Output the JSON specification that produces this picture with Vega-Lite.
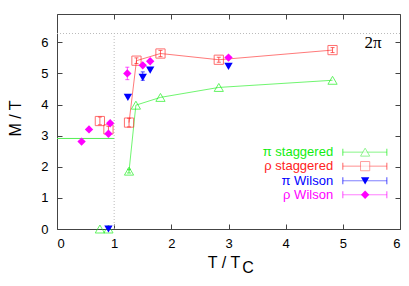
{
  "$schema": "https://vega.github.io/schema/vega-lite/v6.json",
  "autosize": {"type": "none"},
  "padding": {"left": 57, "top": 14, "right": 9, "bottom": 57},
  "width": 343,
  "height": 215,
  "background": "white",
  "config": {
    "view": {"stroke": "#444444", "strokeWidth": 1},
    "font": "Liberation Sans",
    "axis": {"grid": false, "domain": false, "tickColor": "#444444", "tickSize": -5, "labelFont": "Liberation Sans", "labelFontSize": 13, "labelColor": "#000000", "titleFont": "Liberation Sans", "titleFontSize": 16, "titleFontWeight": "normal", "titleColor": "#000000"}
  },
  "datasets": {
    "main": [
      {"series": "π staggered", "T": 0.75, "M": 0.0, "conn": false},
      {"series": "π staggered", "T": 0.9, "M": 0.0, "conn": false},
      {"series": "π staggered", "T": 1.26, "M": 1.86, "lo": 1.8, "hi": 1.92, "conn": true},
      {"series": "π staggered", "T": 1.38, "M": 3.98, "conn": true},
      {"series": "π staggered", "T": 1.81, "M": 4.23, "conn": true},
      {"series": "π staggered", "T": 2.83, "M": 4.55, "conn": true},
      {"series": "π staggered", "T": 4.82, "M": 4.78, "conn": true},
      {"series": "ρ staggered", "T": 0.75, "M": 3.47, "lo": 3.35, "hi": 3.6, "conn": false},
      {"series": "ρ staggered", "T": 0.9, "M": 3.2, "lo": 3.1, "hi": 3.3, "conn": false},
      {"series": "ρ staggered", "T": 1.26, "M": 3.42, "lo": 3.28, "hi": 3.56, "conn": true},
      {"series": "ρ staggered", "T": 1.39, "M": 5.41, "lo": 5.32, "hi": 5.5, "conn": true},
      {"series": "ρ staggered", "T": 1.81, "M": 5.64, "lo": 5.54, "hi": 5.74, "conn": true},
      {"series": "ρ staggered", "T": 2.83, "M": 5.44, "lo": 5.36, "hi": 5.52, "conn": true},
      {"series": "ρ staggered", "T": 4.82, "M": 5.75, "lo": 5.67, "hi": 5.83, "conn": true},
      {"series": "π Wilson", "T": 0.9, "M": 0.0, "conn": false},
      {"series": "π Wilson", "T": 1.24, "M": 4.23, "conn": false},
      {"series": "π Wilson", "T": 1.5, "M": 4.87, "lo": 4.78, "hi": 5.05, "conn": false},
      {"series": "π Wilson", "T": 1.63, "M": 5.11, "conn": false},
      {"series": "π Wilson", "T": 3.0, "M": 5.23, "conn": false},
      {"series": "ρ Wilson", "T": 0.43, "M": 2.81, "conn": false},
      {"series": "ρ Wilson", "T": 0.56, "M": 3.2, "conn": false},
      {"series": "ρ Wilson", "T": 0.9, "M": 3.06, "conn": false},
      {"series": "ρ Wilson", "T": 0.93, "M": 3.4, "conn": false},
      {"series": "ρ Wilson", "T": 1.23, "M": 5.0, "lo": 4.8, "hi": 5.2, "conn": false},
      {"series": "ρ Wilson", "T": 1.5, "M": 5.26, "conn": false},
      {"series": "ρ Wilson", "T": 1.63, "M": 5.39, "conn": false},
      {"series": "ρ Wilson", "T": 3.0, "M": 5.51, "conn": false}
    ],
    "legend": [
      {"series": "π staggered", "ly": 2.47},
      {"series": "ρ staggered", "ly": 2.02},
      {"series": "π Wilson", "ly": 1.55},
      {"series": "ρ Wilson", "ly": 1.1}
    ],
    "ref": [
      {"label": "2π", "M": 6.2832, "T0": 0, "T1": 6, "vx": 1, "v0": 0, "T": 5.53, "ty": 5.97, "gM": 2.91, "g0": 0, "g1": 1}
    ]
  },
  "resolve": {"axis": {"x": "independent", "y": "independent"}},
  "layer": [
    {
      "data": {"name": "main"},
      "mark": {"type": "point", "opacity": 0},
      "encoding": {
        "x": {"field": "T", "type": "quantitative", "scale": {"domain": [0, 6], "nice": false, "zero": false}, "axis": {"orient": "bottom", "values": [0,1,2,3,4,5,6], "labelPadding": 13, "title": "T / T", "titleX": 166.5, "titleY": 38, "titleBaseline": "alphabetic", "titleAlign": "center"}},
        "y": {"field": "M", "type": "quantitative", "scale": {"domain": [0, 6.91], "nice": false, "zero": false}, "axis": {"orient": "left", "values": [0,1,2,3,4,5,6], "labelPadding": 14, "title": "M / T", "titleX": -42, "titleY": 104, "titleAngle": 270, "titleAlign": "center", "titleBaseline": "middle"}}
      }
    },
    {
      "data": {"name": "main"},
      "mark": {"type": "point", "opacity": 0},
      "encoding": {
        "x": {"field": "T", "type": "quantitative", "scale": {"domain": [0, 6], "nice": false, "zero": false}, "axis": {"orient": "top", "values": [0,1,2,3,4,5,6], "labels": false, "title": null}},
        "y": {"field": "M", "type": "quantitative", "scale": {"domain": [0, 6.91], "nice": false, "zero": false}, "axis": {"orient": "right", "values": [0,1,2,3,4,5,6], "labels": false, "title": null}}
      }
    },
    {
      "data": {"name": "ref"},
      "mark": {"type": "rule", "color": "#bbbbbb", "strokeDash": [1, 2], "strokeWidth": 1},
      "encoding": {
        "x": {"field": "T0", "type": "quantitative", "scale": {"domain": [0, 6], "nice": false, "zero": false}, "axis": null},
        "x2": {"field": "T1"},
        "y": {"field": "M", "type": "quantitative", "scale": {"domain": [0, 6.91], "nice": false, "zero": false}, "axis": null}
      }
    },
    {
      "data": {"name": "ref"},
      "mark": {"type": "rule", "color": "#bbbbbb", "strokeDash": [1, 2], "strokeWidth": 1},
      "encoding": {
        "x": {"field": "vx", "type": "quantitative", "scale": {"domain": [0, 6], "nice": false, "zero": false}, "axis": null},
        "y": {"field": "v0", "type": "quantitative", "scale": {"domain": [0, 6.91], "nice": false, "zero": false}, "axis": null},
        "y2": {"field": "M"}
      }
    },
    {
      "data": {"name": "ref"},
      "mark": {"type": "rule", "color": "#55ee55", "strokeWidth": 1},
      "encoding": {
        "x": {"field": "g0", "type": "quantitative", "scale": {"domain": [0, 6], "nice": false, "zero": false}, "axis": null},
        "x2": {"field": "g1"},
        "y": {"field": "gM", "type": "quantitative", "scale": {"domain": [0, 6.91], "nice": false, "zero": false}, "axis": null}
      }
    },
    {
      "data": {"name": "ref"},
      "mark": {"type": "text", "font": "Liberation Serif", "fontSize": 17, "align": "center", "baseline": "middle", "color": "#000000"},
      "encoding": {
        "x": {"field": "T", "type": "quantitative", "scale": {"domain": [0, 6], "nice": false, "zero": false}, "axis": null},
        "y": {"field": "ty", "type": "quantitative", "scale": {"domain": [0, 6.91], "nice": false, "zero": false}, "axis": null},
        "text": {"field": "label"}
      }
    },
    {
      "data": {"name": "ref"},
      "mark": {"type": "text", "font": "Liberation Sans", "fontSize": 16, "align": "left", "baseline": "alphabetic", "color": "#000000", "text": "C"},
      "encoding": {
        "x": {"datum": 3.24, "type": "quantitative", "scale": {"domain": [0, 6], "nice": false, "zero": false}, "axis": null},
        "y": {"datum": -1.41, "type": "quantitative", "scale": {"domain": [0, 6.91], "nice": false, "zero": false}, "axis": null}
      }
    },
    {
      "data": {"name": "main"},
      "transform": [{"filter": "datum.conn"}],
      "mark": {"type": "line", "strokeWidth": 1, "opacity": 0.6},
      "encoding": {
        "x": {"field": "T", "type": "quantitative", "scale": {"domain": [0, 6], "nice": false, "zero": false}, "axis": null},
        "y": {"field": "M", "type": "quantitative", "scale": {"domain": [0, 6.91], "nice": false, "zero": false}, "axis": null},
        "color": {"field": "series", "type": "nominal", "scale": {"domain": ["π staggered", "ρ staggered", "π Wilson", "ρ Wilson"], "range": ["#11ee11", "#ff2222", "#0000ff", "#ff00ff"]}, "legend": null},
        "detail": {"field": "series"}
      }
    },
    {
      "data": {"name": "main"},
      "transform": [{"filter": "isValid(datum.lo)"}],
      "mark": {"type": "rule", "strokeWidth": 1, "opacity": 0.7},
      "encoding": {
        "x": {"field": "T", "type": "quantitative", "scale": {"domain": [0, 6], "nice": false, "zero": false}, "axis": null},
        "y": {"field": "lo", "type": "quantitative", "scale": {"domain": [0, 6.91], "nice": false, "zero": false}, "axis": null},
        "y2": {"field": "hi"},
        "color": {"field": "series", "type": "nominal", "scale": {"domain": ["π staggered", "ρ staggered", "π Wilson", "ρ Wilson"], "range": ["#11ee11", "#ff2222", "#0000ff", "#ff00ff"]}, "legend": null}
      }
    },
    {
      "data": {"name": "main"},
      "transform": [{"filter": "isValid(datum.lo)"}],
      "mark": {"type": "tick", "orient": "horizontal", "size": 4, "thickness": 1, "opacity": 0.7},
      "encoding": {
        "x": {"field": "T", "type": "quantitative", "scale": {"domain": [0, 6], "nice": false, "zero": false}, "axis": null},
        "y": {"field": "lo", "type": "quantitative", "scale": {"domain": [0, 6.91], "nice": false, "zero": false}, "axis": null},
        "color": {"field": "series", "type": "nominal", "scale": {"domain": ["π staggered", "ρ staggered", "π Wilson", "ρ Wilson"], "range": ["#11ee11", "#ff2222", "#0000ff", "#ff00ff"]}, "legend": null}
      }
    },
    {
      "data": {"name": "main"},
      "transform": [{"filter": "isValid(datum.hi)"}],
      "mark": {"type": "tick", "orient": "horizontal", "size": 4, "thickness": 1, "opacity": 0.7},
      "encoding": {
        "x": {"field": "T", "type": "quantitative", "scale": {"domain": [0, 6], "nice": false, "zero": false}, "axis": null},
        "y": {"field": "hi", "type": "quantitative", "scale": {"domain": [0, 6.91], "nice": false, "zero": false}, "axis": null},
        "color": {"field": "series", "type": "nominal", "scale": {"domain": ["π staggered", "ρ staggered", "π Wilson", "ρ Wilson"], "range": ["#11ee11", "#ff2222", "#0000ff", "#ff00ff"]}, "legend": null}
      }
    },
    {
      "data": {"name": "main"},
      "transform": [{"filter": "indexof(datum.series, 'staggered') >= 0"}],
      "mark": {"type": "point", "filled": false, "strokeWidth": 1, "opacity": 0.65, "size": 85},
      "encoding": {
        "x": {"field": "T", "type": "quantitative", "scale": {"domain": [0, 6], "nice": false, "zero": false}, "axis": null},
        "y": {"field": "M", "type": "quantitative", "scale": {"domain": [0, 6.91], "nice": false, "zero": false}, "axis": null},
        "color": {"field": "series", "type": "nominal", "scale": {"domain": ["π staggered", "ρ staggered", "π Wilson", "ρ Wilson"], "range": ["#11ee11", "#ff2222", "#0000ff", "#ff00ff"]}, "legend": null},
        "shape": {"field": "series", "type": "nominal", "scale": {"domain": ["π staggered", "ρ staggered", "π Wilson", "ρ Wilson"], "range": ["triangle-up", "square", "triangle-down", "diamond"]}, "legend": null}
      }
    },
    {
      "data": {"name": "main"},
      "transform": [{"filter": "indexof(datum.series, 'Wilson') >= 0"}],
      "mark": {"type": "point", "filled": true, "opacity": 1, "size": 70},
      "encoding": {
        "x": {"field": "T", "type": "quantitative", "scale": {"domain": [0, 6], "nice": false, "zero": false}, "axis": null},
        "y": {"field": "M", "type": "quantitative", "scale": {"domain": [0, 6.91], "nice": false, "zero": false}, "axis": null},
        "color": {"field": "series", "type": "nominal", "scale": {"domain": ["π staggered", "ρ staggered", "π Wilson", "ρ Wilson"], "range": ["#11ee11", "#ff2222", "#0000ff", "#ff00ff"]}, "legend": null},
        "shape": {"field": "series", "type": "nominal", "scale": {"domain": ["π staggered", "ρ staggered", "π Wilson", "ρ Wilson"], "range": ["triangle-up", "square", "triangle-down", "diamond"]}, "legend": null}
      }
    },
    {
      "data": {"name": "legend"},
      "mark": {"type": "text", "align": "right", "baseline": "middle", "fontSize": 13, "font": "Liberation Sans"},
      "encoding": {
        "x": {"datum": 4.83, "type": "quantitative", "scale": {"domain": [0, 6], "nice": false, "zero": false}, "axis": null},
        "y": {"field": "ly", "type": "quantitative", "scale": {"domain": [0, 6.91], "nice": false, "zero": false}, "axis": null},
        "text": {"field": "series"},
        "color": {"field": "series", "type": "nominal", "scale": {"domain": ["π staggered", "ρ staggered", "π Wilson", "ρ Wilson"], "range": ["#11ee11", "#ff2222", "#0000ff", "#ff00ff"]}, "legend": null}
      }
    },
    {
      "data": {"name": "legend"},
      "mark": {"type": "rule", "strokeWidth": 1, "opacity": 0.5},
      "encoding": {
        "x": {"datum": 5.0, "type": "quantitative", "scale": {"domain": [0, 6], "nice": false, "zero": false}, "axis": null},
        "x2": {"datum": 5.77},
        "y": {"field": "ly", "type": "quantitative", "scale": {"domain": [0, 6.91], "nice": false, "zero": false}, "axis": null},
        "color": {"field": "series", "type": "nominal", "scale": {"domain": ["π staggered", "ρ staggered", "π Wilson", "ρ Wilson"], "range": ["#11ee11", "#ff2222", "#0000ff", "#ff00ff"]}, "legend": null}
      }
    },
    {
      "data": {"name": "legend"},
      "mark": {"type": "tick", "orient": "vertical", "size": 7, "thickness": 1, "opacity": 0.7},
      "encoding": {
        "x": {"datum": 5.0, "type": "quantitative", "scale": {"domain": [0, 6], "nice": false, "zero": false}, "axis": null},
        "y": {"field": "ly", "type": "quantitative", "scale": {"domain": [0, 6.91], "nice": false, "zero": false}, "axis": null},
        "color": {"field": "series", "type": "nominal", "scale": {"domain": ["π staggered", "ρ staggered", "π Wilson", "ρ Wilson"], "range": ["#11ee11", "#ff2222", "#0000ff", "#ff00ff"]}, "legend": null}
      }
    },
    {
      "data": {"name": "legend"},
      "mark": {"type": "tick", "orient": "vertical", "size": 7, "thickness": 1, "opacity": 0.7},
      "encoding": {
        "x": {"datum": 5.77, "type": "quantitative", "scale": {"domain": [0, 6], "nice": false, "zero": false}, "axis": null},
        "y": {"field": "ly", "type": "quantitative", "scale": {"domain": [0, 6.91], "nice": false, "zero": false}, "axis": null},
        "color": {"field": "series", "type": "nominal", "scale": {"domain": ["π staggered", "ρ staggered", "π Wilson", "ρ Wilson"], "range": ["#11ee11", "#ff2222", "#0000ff", "#ff00ff"]}, "legend": null}
      }
    },
    {
      "data": {"name": "legend"},
      "transform": [{"filter": "indexof(datum.series, 'staggered') >= 0"}],
      "mark": {"type": "point", "filled": true, "fill": "white", "strokeWidth": 1, "size": 85},
      "encoding": {
        "x": {"datum": 5.39, "type": "quantitative", "scale": {"domain": [0, 6], "nice": false, "zero": false}, "axis": null},
        "y": {"field": "ly", "type": "quantitative", "scale": {"domain": [0, 6.91], "nice": false, "zero": false}, "axis": null},
        "stroke": {"field": "series", "type": "nominal", "scale": {"domain": ["π staggered", "ρ staggered", "π Wilson", "ρ Wilson"], "range": ["#66f066", "#ff7777", "#0000ff", "#ff00ff"]}, "legend": null},
        "shape": {"field": "series", "type": "nominal", "scale": {"domain": ["π staggered", "ρ staggered", "π Wilson", "ρ Wilson"], "range": ["triangle-up", "square", "triangle-down", "diamond"]}, "legend": null}
      }
    },
    {
      "data": {"name": "legend"},
      "transform": [{"filter": "indexof(datum.series, 'Wilson') >= 0"}],
      "mark": {"type": "point", "filled": true, "opacity": 1, "size": 70},
      "encoding": {
        "x": {"datum": 5.39, "type": "quantitative", "scale": {"domain": [0, 6], "nice": false, "zero": false}, "axis": null},
        "y": {"field": "ly", "type": "quantitative", "scale": {"domain": [0, 6.91], "nice": false, "zero": false}, "axis": null},
        "color": {"field": "series", "type": "nominal", "scale": {"domain": ["π staggered", "ρ staggered", "π Wilson", "ρ Wilson"], "range": ["#11ee11", "#ff2222", "#0000ff", "#ff00ff"]}, "legend": null},
        "shape": {"field": "series", "type": "nominal", "scale": {"domain": ["π staggered", "ρ staggered", "π Wilson", "ρ Wilson"], "range": ["triangle-up", "square", "triangle-down", "diamond"]}, "legend": null}
      }
    }
  ]
}
